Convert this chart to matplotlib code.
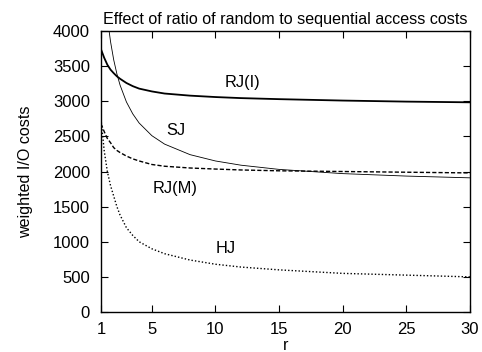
import matplotlib
matplotlib.use("Agg")
import matplotlib.pyplot as plt

# values
r = [1, 1.25, 1.5, 1.75, 2, 2.25, 2.5, 3, 3.5, 4, 5, 6, 8, 10, 12, 15, 20, 25, 30]
rj_i = [3740, 3620, 3520, 3450, 3400, 3355, 3320, 3260, 3215, 3180, 3140, 3110, 3080, 3060, 3045, 3030, 3010, 2995, 2985]
sj = [5400, 4670, 4190, 3850, 3590, 3390, 3230, 2990, 2820, 2690, 2510, 2390, 2240, 2150, 2090, 2030, 1970, 1935, 1910]
rj_m = [2680, 2570, 2470, 2410, 2340, 2300, 2270, 2220, 2180, 2150, 2100, 2075, 2050, 2035, 2022, 2010, 2000, 1990, 1980]
hj = [2750, 2300, 2000, 1800, 1650, 1500, 1380, 1200, 1090, 1000, 900, 830, 740, 680, 640, 600, 550, 525, 500]

curve_labels = ["RJ(I)", "SJ", "RJ(M)", "HJ"]
label_pos = [(12.1, 3274), (6.9, 2577), (6.8, 1765), (10.8, 897)]

x_ticks = [1, 5, 10, 15, 20, 25, 30]
y_ticks = list(range(0, 4001, 500))

plt.rcParams['font.family'] = ['Liberation Sans', 'DejaVu Sans']
plt.rcParams['font.size'] = 12

fig = plt.figure(figsize=(4.82, 3.52), dpi=100)
ax = fig.add_axes([0.2095, 0.1136, 0.7655, 0.7983])

ax.plot(r, rj_i, color="black", lw=1.3, ls="-")
ax.plot(r, sj, color="black", lw=0.6, ls="-")
ax.plot(r, rj_m, color="black", lw=1.0, ls=(0, (3, 1.5)))
ax.plot(r, hj, color="black", lw=1.0, ls=(0, (1, 1.5)))

for txt, (lx, ly) in zip(curve_labels, label_pos):
    ax.text(lx, ly, txt, ha="center", va="center", fontsize=11.8)

ax.set_xlim(1, 30)
ax.set_ylim(0, 4000)
ax.set_xticks(x_ticks)
ax.set_yticks(y_ticks)
ax.tick_params(direction="in", top=True, right=True, length=5, width=0.8, labelsize=12)
ax.tick_params(axis="x", pad=7)
ax.tick_params(axis="y", pad=8)
for s in ax.spines.values():
    s.set_linewidth(1.0)

ax.set_title("Effect of ratio of random to sequential access costs", fontsize=11.6, pad=5)
ax.set_xlabel("r", fontsize=11.6, va="center")
ax.xaxis.set_label_coords(0.5, -0.118)
ax.set_ylabel("weighted I/O costs", fontsize=11.6, labelpad=14)

fig.savefig("out.png", dpi=100)
